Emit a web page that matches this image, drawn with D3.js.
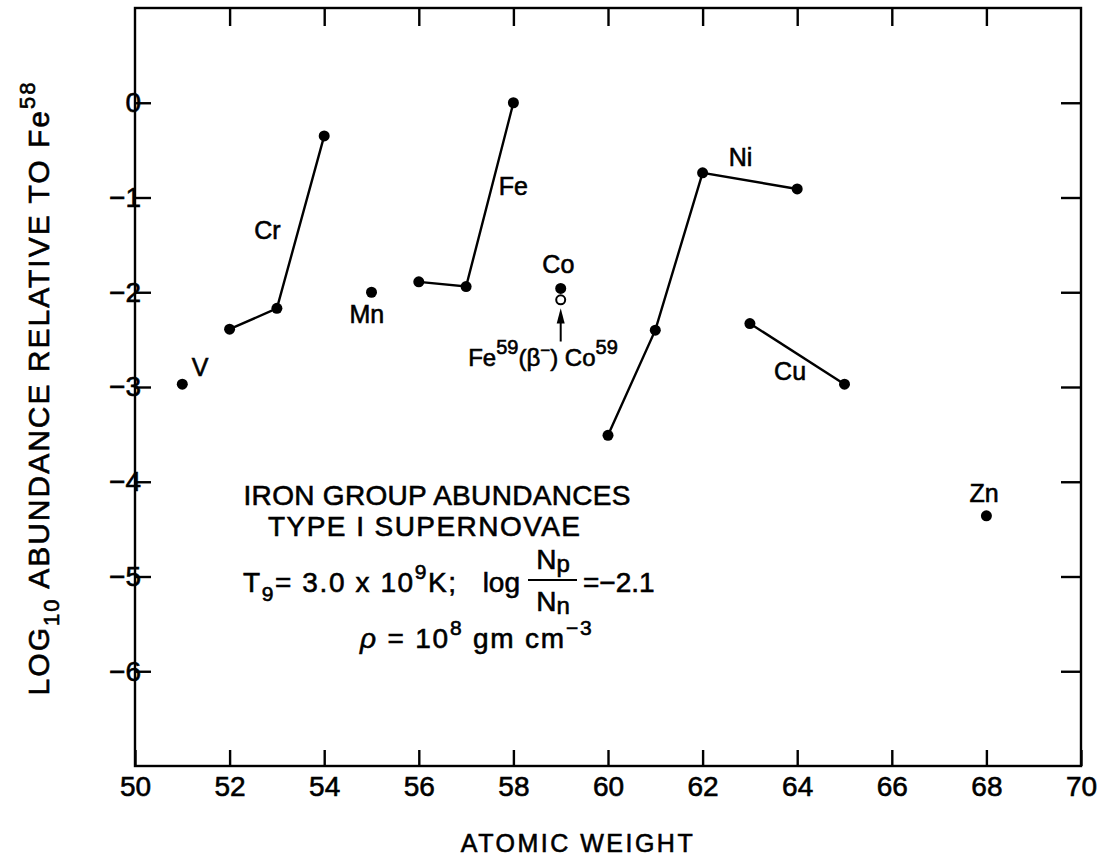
<!DOCTYPE html>
<html><head><meta charset="utf-8">
<script src="https://cdn.jsdelivr.net/npm/d3@7"></script>
<style>body{margin:0;background:#fff}svg text{font-family:"Liberation Sans",Arial,sans-serif;fill:#000;stroke:#000;stroke-width:0.6px}</style>
</head><body>
<svg id="c" width="1103" height="858"></svg>
<script>
const xTicks = [50,52,54,56,58,60,62,64,66,68,70];
const yTicks = [0,-1,-2,-3,-4,-5,-6];
const yTickLabels = ["0","\u22121","\u22122","\u22123","\u22124","\u22125","\u22126"];
const crSeries = [[52,-2.39],[53,-2.17],[54,-0.35]];
const feSeries = [[56,-1.89],[57,-1.94],[58,0.0]];
const niSeries = [[60,-3.51],[61,-2.40],[62,-0.74],[64,-0.91]];
const cuSeries = [[63,-2.33],[65,-2.97]];
const singles = [[51,-2.97],[55,-2.0],[59,-1.96],[68,-4.36]];
const coOpen = [[59,-2.08]];
const elementLabels = [
  {t:"V", x:51.2, y:-2.88, a:"start"},
  {t:"Cr", x:52.8, y:-1.44, a:"middle"},
  {t:"Mn", x:54.9, y:-2.32, a:"middle"},
  {t:"Fe", x:58.0, y:-0.97, a:"middle"},
  {t:"Co", x:58.95, y:-1.8, a:"middle"},
  {t:"Ni", x:62.8, y:-0.67, a:"middle"},
  {t:"Cu", x:63.85, y:-2.93, a:"middle"},
  {t:"Zn", x:67.95, y:-4.21, a:"middle"}
];

const svg = d3.select("#c");
const x = d3.scaleLinear().domain([50,70]).range([135,1081]);
const y = d3.scaleLinear().domain([1,-7]).range([8,766]);
const F = "Liberation Sans";

svg.append("rect").attr("x",x(50)).attr("y",y(1)).attr("width",x(70)-x(50)).attr("height",y(-7)-y(1))
  .attr("fill","none").attr("stroke","#000").attr("stroke-width",2.4);

const bx = svg.append("g").attr("transform",`translate(0,${y(-7)})`)
  .call(d3.axisBottom(x).tickValues(xTicks).tickSize(-16).tickPadding(10).tickFormat(d3.format("d")));
const tx = svg.append("g").attr("transform",`translate(0,${y(1)})`)
  .call(d3.axisTop(x).tickValues(xTicks.slice(1,-1)).tickSize(-18).tickFormat(""));
const ly = svg.append("g").attr("transform",`translate(${x(50)},0)`)
  .call(d3.axisLeft(y).tickValues(yTicks).tickSize(-16).tickPadding(8).tickFormat((d,i)=>yTickLabels[i]));
const ry = svg.append("g").attr("transform",`translate(${x(70)},0)`)
  .call(d3.axisRight(y).tickValues(yTicks).tickSize(-20).tickFormat(""));
[bx,tx,ly,ry].forEach(g=>{
  g.select(".domain").remove();
  g.selectAll(".tick line").attr("stroke","#000").attr("stroke-width",2.4);
  g.selectAll(".tick text").attr("font-size",28).attr("font-family",F).attr("fill","#000");
});
bx.selectAll(".tick text").attr("dy","0.71em");
ly.selectAll(".tick text").attr("text-anchor","end").attr("dx",14);

const line = d3.line().x(d=>x(d[0])).y(d=>y(d[1]));
[crSeries,feSeries,niSeries,cuSeries].forEach(s=>{
  svg.append("path").attr("d",line(s)).attr("fill","none").attr("stroke","#000").attr("stroke-width",2.4);
});
const allPts = [].concat(crSeries,feSeries,niSeries,cuSeries,singles);
svg.selectAll("circle.p").data(allPts).enter().append("circle").attr("class","p")
  .attr("cx",d=>x(d[0])).attr("cy",d=>y(d[1])).attr("r",5.5).attr("fill","#000");
svg.selectAll("circle.o").data(coOpen).enter().append("circle").attr("class","o")
  .attr("cx",d=>x(d[0])).attr("cy",d=>y(d[1])).attr("r",4.5).attr("fill","#fff").attr("stroke","#000").attr("stroke-width",2);

// arrow
svg.append("line").attr("x1",x(59)).attr("x2",x(59)).attr("y1",y(-2.52)).attr("y2",y(-2.25))
  .attr("stroke","#000").attr("stroke-width",2);
svg.append("path").attr("d",`M${x(59)-4},${y(-2.33)} L${x(59)},${y(-2.17)} L${x(59)+4},${y(-2.33)} Z`).attr("fill","#000");

svg.selectAll("text.el").data(elementLabels).enter().append("text").attr("class","el")
  .attr("x",d=>x(d.x)).attr("y",d=>y(d.y)).attr("text-anchor",d=>d.a).attr("font-size",25).text(d=>d.t);

// Fe59(beta-)Co59
const fe = svg.append("text").attr("x",543).attr("y",y(-2.78)).attr("text-anchor","middle").attr("font-size",24);
fe.append("tspan").text("Fe");
fe.append("tspan").attr("dy",-12).attr("font-size",20).text("59");
fe.append("tspan").attr("dy",12).text("(\u03B2");
fe.append("tspan").attr("dy",-10).attr("font-size",17).text("\u2212");
fe.append("tspan").attr("dy",10).text(") Co");
fe.append("tspan").attr("dy",-12).attr("font-size",20).text("59");

// annotation block
svg.append("text").attr("x",437).attr("y",505).attr("text-anchor","middle").attr("font-size",28).attr("textLength",387).text("IRON GROUP ABUNDANCES");
svg.append("text").attr("x",424).attr("y",536).attr("text-anchor","middle").attr("font-size",28).attr("textLength",312).text("TYPE I SUPERNOVAE");
const t9 = svg.append("text").attr("x",243).attr("y",592).attr("font-size",28).attr("letter-spacing",1.6);
t9.append("tspan").text("T");
t9.append("tspan").attr("dy",9).attr("font-size",21).text("9");
t9.append("tspan").attr("dy",-9).text("= 3.0 x 10");
t9.append("tspan").attr("dy",-13).attr("font-size",21).text("9");
t9.append("tspan").attr("dy",13).text("K;");
svg.append("text").attr("x",520).attr("y",592).attr("text-anchor","end").attr("font-size",28).text("log");
svg.append("text").attr("x",553).attr("y",569).attr("text-anchor","middle").attr("font-size",28)
  .call(t=>{t.append("tspan").text("N");t.append("tspan").attr("font-size",24).attr("dy",3).text("p");});
svg.append("line").attr("x1",528).attr("x2",577).attr("y1",580).attr("y2",580).attr("stroke","#000").attr("stroke-width",2.2);
svg.append("text").attr("x",553).attr("y",611).attr("text-anchor","middle").attr("font-size",28)
  .call(t=>{t.append("tspan").text("N");t.append("tspan").attr("font-size",24).attr("dy",3).text("n");});
svg.append("text").attr("x",583).attr("y",592).attr("font-size",28).text("=\u22122.1");
const rho = svg.append("text").attr("x",360).attr("y",648).attr("font-size",28).attr("letter-spacing",1.8);
rho.append("tspan").attr("font-style","italic").text("\u03C1");
rho.append("tspan").text(" = 10");
rho.append("tspan").attr("dy",-13).attr("font-size",21).text("8");
rho.append("tspan").attr("dy",13).text(" gm cm");
rho.append("tspan").attr("dy",-13).attr("font-size",21).text("\u22123");

// axis titles
svg.append("text").attr("x",578).attr("y",852).attr("text-anchor","middle").attr("font-size",25)
  .attr("letter-spacing",2.5).text("ATOMIC WEIGHT");
const yl = svg.append("text").attr("transform","translate(49,388) rotate(-90)").attr("text-anchor","middle").attr("font-size",30).attr("letter-spacing",2);
yl.append("tspan").text("LOG");
yl.append("tspan").attr("dy",10).attr("font-size",22).text("10");
yl.append("tspan").attr("dy",-10).text(" ABUNDANCE RELATIVE TO Fe");
yl.append("tspan").attr("dy",-14).attr("font-size",22).text("58");
</script>
</body></html>
